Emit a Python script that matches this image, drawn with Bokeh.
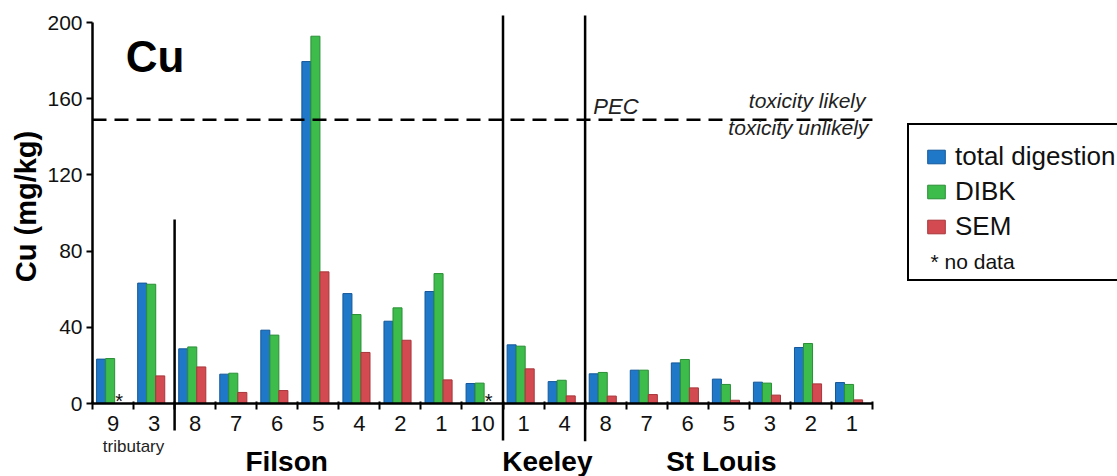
import math
from bokeh.plotting import figure
from bokeh.models import LinearAxis, FixedTicker, Range1d, Legend, LegendItem
from bokeh.core.properties import value
from bokeh.embed import file_html
from bokeh.resources import INLINE

# Sampling sites, in plotting order, grouped by stream
sites = ["9", "3",
         "8", "7", "6", "5", "4", "2", "1", "10",
         "1", "4",
         "8", "7", "6", "5", "3", "2", "1"]
groups = ["tributary", "Filson", "Keeley", "St Louis"]
group_sizes = [2, 8, 2, 7]

# Cu concentrations (mg/kg); None = no data
total_digestion = [23.3, 63.2, 28.7, 15.4, 38.5, 179.5, 57.7, 43.2, 58.8, 10.5,
                   30.8, 11.5, 15.6, 17.5, 21.3, 12.8, 11.2, 29.4, 11.0]
dibk = [23.6, 62.6, 29.7, 15.9, 35.9, 192.8, 46.7, 50.2, 68.2, 10.7,
        30.1, 12.2, 16.3, 17.5, 23.1, 10.0, 10.7, 31.5, 10.0]
sem = [None, 14.5, 19.2, 5.8, 6.8, 69.1, 26.8, 33.2, 12.4, None,
       18.2, 4.0, 3.9, 4.7, 8.2, 1.7, 4.4, 10.3, 1.9]

pec = 149
y_ticks = [0, 40, 80, 120, 160, 200]

FONT = "Liberation Sans"
INK = "#111111"
n = len(sites)
idx = list(range(n))

# one frame over the whole canvas; axes sit at fixed data positions
p = figure(width=1117, height=476, output_backend="svg", toolbar_location=None,
           x_axis_location=None, y_axis_location=None,
           x_range=Range1d(-2.7412, 24.469), y_range=Range1d(-38.32, 211.55),
           min_border_left=0, min_border_right=0, min_border_top=0,
           min_border_bottom=0)
p.outline_line_color = None
p.xgrid.visible = False
p.ygrid.visible = False
p.background_fill_color = "white"
p.border_fill_color = "white"

# y axis
yax = LinearAxis(ticker=FixedTicker(ticks=y_ticks), bounds=(0, 200),
                 fixed_location=-0.5)
yax.axis_line_width = 2.5
yax.major_tick_line_width = 2
yax.major_tick_out = 6
yax.major_tick_in = 0
yax.minor_tick_line_color = None
yax.major_label_text_font = FONT
yax.major_label_text_font_size = "21px"
yax.major_label_text_color = INK
yax.major_label_standoff = 4
p.add_layout(yax, "left")

p.text(x=[-2.132], y=[103.4], text=["Cu (mg/kg)"], angle=math.pi / 2,
       text_font=value(FONT), text_font_size="29px", text_font_style="bold",
       text_align="center", text_baseline="alphabetic", text_color="black")

# x axis sitting on y = 0: site labels at bar groups, tick marks between them
boundaries = [i - 0.5 for i in range(n + 1)]
xax = LinearAxis(ticker=FixedTicker(ticks=idx, minor_ticks=boundaries),
                 bounds=(-0.5, n - 0.5), fixed_location=0)
xax.major_label_overrides = {i: s for i, s in zip(idx, sites)}
xax.axis_line_width = 2.5
xax.major_tick_line_color = None
xax.minor_tick_line_width = 2
xax.minor_tick_out = 6
xax.minor_tick_in = 2
xax.major_label_text_font = FONT
xax.major_label_text_font_size = "22px"
xax.major_label_text_color = INK
xax.major_label_standoff = 6
p.add_layout(xax, "below")

# bars
w = 0.22
offsets = [-0.29, -0.07, 0.15]
series = [("total digestion", total_digestion, "#1f78c8", "#15589a"),
          ("DIBK", dibk, "#3dbb4b", "#2a8f36"),
          ("SEM", sem, "#d34b51", "#a8363b")]
bar_renderers = []
for (name, vals, fill, edge), off in zip(series, offsets):
    xs = [i + off for i, v in zip(idx, vals) if v is not None]
    ys = [v for v in vals if v is not None]
    r = p.vbar(x=xs, top=ys, bottom=0, width=w, fill_color=fill,
               line_color=edge, line_width=1)
    bar_renderers.append((name, r))

# "no data" asterisks where an SEM bar would stand
nd_x = [i + offsets[2] for i, v in zip(idx, sem) if v is None]
p.text(x=nd_x, y=[1.3] * len(nd_x), text=["*"] * len(nd_x),
       text_font=value(FONT), text_font_size="20px", text_align="center",
       text_baseline="alphabetic", text_color=INK)

# group separators
starts = [0]
for s in group_sizes[:-1]:
    starts.append(starts[-1] + s)
sep_x = [s - 0.5 for s in starts[1:]]
sep_top = [96.6, 203.67, 203.67]
sep_bot = [-14.2, -19.4, -19.8]
p.segment(x0=sep_x, y0=sep_bot, x1=sep_x, y1=sep_top, line_color="black",
          line_width=2.5)

# PEC threshold line
p.segment(x0=[-0.5], y0=[pec], x1=[n - 0.5], y1=[pec], line_color="black",
          line_width=2.5, line_dash="14 8")
p.text(x=[11.7], y=[pec + 6.9], text=["PEC"], text_font=value(FONT),
       text_font_size="22px", text_font_style="italic", text_baseline="alphabetic",
       text_color="#222222")
p.text(x=[18.33, 18.4], y=[pec + 10.1, pec - 4.1],
       text=["toxicity likely", "toxicity unlikely"], text_font=value(FONT),
       text_font_size="21px", text_font_style="italic", text_align="right",
       text_baseline="alphabetic", text_color="#222222")

# panel title
p.text(x=[0.31], y=[182.2], text=["Cu"], text_font=value(FONT),
       text_font_size="44px", text_font_style="bold", text_baseline="alphabetic",
       text_color="black")

# group names under the axis
p.text(x=[0.5], y=[-22.6], text=[groups[0]], text_font=value(FONT),
       text_font_size="17px", text_align="center", text_baseline="alphabetic",
       text_color="#222222")
p.text(x=[4.23, 10.58, 14.82], y=[-30.4] * 3, text=groups[1:],
       text_font=value(FONT), text_font_size="28px", text_font_style="bold",
       text_align="center", text_baseline="alphabetic", text_color="black")

# "no data" note shown inside the legend box's last row
p.text(x=[19.914], y=[74.5], text=["* no data"], text_font=value(FONT),
       text_font_size="21px", text_baseline="alphabetic", text_color=INK)

# legend: three bar series plus a reserved row for the note
blank = p.scatter(x=[], y=[], fill_alpha=0, line_alpha=0)
legend = Legend(items=[LegendItem(label=nm, renderers=[r]) for nm, r in bar_renderers]
                + [LegendItem(label=" ", renderers=[blank])],
                location=(907, 195), margin=0, padding=16, spacing=4,
                glyph_width=22, glyph_height=17, label_standoff=8,
                label_width=180, border_line_color="black", border_line_width=2,
                border_line_alpha=1, label_text_font=FONT,
                label_text_font_size="26px", label_text_color=INK,
                background_fill_alpha=0)
p.add_layout(legend)

open("out.html", "w").write(file_html(p, INLINE))
